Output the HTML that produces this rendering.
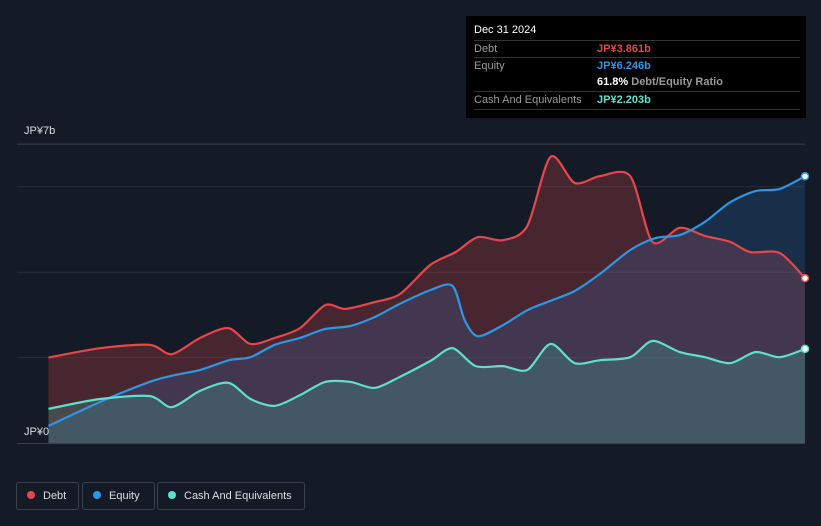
<!DOCTYPE html>
<html><head><meta charset="utf-8"><style>
body{margin:0;background:#151b26;font-family:"Liberation Sans",sans-serif;}
#wrap{position:relative;width:821px;height:526px;overflow:hidden;background:#151b26;}
#tip{position:absolute;left:466px;top:16px;width:340px;height:102px;background:#000;color:#fff;font-size:11px;}
.row{position:absolute;left:8px;right:6px;height:17px;line-height:17px;border-top:1px solid #333;color:#999;}
.row span{position:absolute;left:123px;font-weight:bold;}
#legend{position:absolute;top:482px;left:16px;}
.lg{position:absolute;top:0;height:26px;border:1px solid #3a404c;border-radius:3px;color:#ddd;font-size:11px;line-height:26px;}
.dot{display:inline-block;width:8px;height:8px;border-radius:4px;margin:0 8px 0 10px;}
</style></head><body>
<div id="wrap">
<svg id="svg" width="821" height="526" style="position:absolute;left:0;top:0"></svg>
<div id="tip">
 <div style="position:absolute;left:8px;top:8px;font-size:11px;">Dec 31 2024</div>
 <div class="row" style="top:24px">Debt<span style="color:#e5474b">JP¥3.861b</span></div>
 <div class="row" style="top:41px">Equity<span style="color:#2d96e6">JP¥6.246b</span></div>
 <div class="row" style="top:58px;border-top:none"><span style="color:#fff">61.8% <b style="color:#999">Debt/Equity Ratio</b></span></div>
 <div class="row" style="top:75px">Cash And Equivalents<span style="color:#5fe0cc">JP¥2.203b</span></div>
 <div class="row" style="top:93px;height:0"></div>
</div>
<div id="legend">
 <div class="lg" style="left:0;width:61px"><span class="dot" style="background:#e5474b"></span>Debt</div>
 <div class="lg" style="left:66px;width:71px"><span class="dot" style="background:#2d96e6"></span>Equity</div>
 <div class="lg" style="left:141px;width:146px"><span class="dot" style="background:#5fe0cc"></span>Cash And Equivalents</div>
</div>
</div>
<script>
const debtDates=[17.5,18.01,18.5,18.72,19.0,19.28,19.5,19.74,19.99,20.24,20.44,20.73,20.98,21.28,21.53,21.75,22.0,22.24,22.47,22.71,22.96,23.26,23.48,23.75,24.0,24.25,24.45,24.74,24.99];
const debtVals=[2.0,2.22,2.3,2.08,2.46,2.69,2.32,2.46,2.69,3.23,3.14,3.3,3.49,4.17,4.47,4.82,4.75,5.08,6.7,6.09,6.25,6.25,4.71,5.04,4.85,4.71,4.47,4.45,3.861];
const eqDates=[17.5,18.01,18.5,18.75,19.0,19.29,19.5,19.74,19.99,20.24,20.49,20.73,20.98,21.28,21.5,21.62,21.75,22.0,22.24,22.47,22.71,22.96,23.26,23.51,23.75,24.0,24.25,24.5,24.74,24.99];
const eqVals=[0.4,0.96,1.43,1.59,1.71,1.94,2.01,2.3,2.46,2.67,2.74,2.95,3.26,3.58,3.68,2.88,2.5,2.76,3.11,3.33,3.56,3.96,4.52,4.8,4.87,5.18,5.64,5.9,5.95,6.246];
const cashDates=[17.5,18.01,18.5,18.72,19.0,19.28,19.5,19.74,19.99,20.24,20.49,20.73,20.98,21.28,21.5,21.73,22.0,22.24,22.47,22.71,22.96,23.26,23.48,23.75,24.0,24.25,24.5,24.74,24.99];
const cashVals=[0.8,1.03,1.1,0.84,1.22,1.41,1.03,0.87,1.12,1.43,1.43,1.29,1.55,1.92,2.22,1.8,1.8,1.71,2.32,1.87,1.94,2.01,2.39,2.13,2.01,1.87,2.13,2.01,2.203];
const yTicks=[0,2,4,6,7];
const xYears=[2018,2019,2020,2021,2022,2023,2024];
const NS="http://www.w3.org/2000/svg",svg=document.getElementById('svg');
const X=d=>99+(d-18)*101, Y=v=>443-v*42.7;
function mk(t,a,name){const e=document.createElementNS(NS,t);for(const k in a)e.setAttribute(k,a[k]);


svg.appendChild(e);return e;}
yTicks.forEach(v=>{if(v>0)mk('line',{x1:17,x2:805,y1:Y(v),y2:Y(v),stroke:v==7?'#3a404c':'#262c38','stroke-width':1},'gridline-'+v);});
mk('line',{x1:17,x2:805,y1:443.5,y2:443.5,stroke:'#3a404c'},'x-axis');
const t1=mk('text',{x:24,y:134,fill:'#ddd','font-size':11},'y-label-top');t1.textContent='JP¥7b';
const t0=mk('text',{x:24,y:435,fill:'#ddd','font-size':11},'y-label-zero');t0.textContent='JP¥0';
xYears.forEach(y=>{const t=mk('text',{x:X(y),y:461,fill:'#aaa','font-size':11,'text-anchor':'middle'},'x-label-'+y);t.textContent=y;});
function path(ds,vs){const p=ds.map((d,i)=>[X(d),Y(vs[i])]);let s='M'+p[0][0]+','+p[0][1];
for(let i=0;i<p.length-1;i++){const p0=p[i-1]||p[i],p1=p[i],p2=p[i+1],p3=p[i+2]||p2,k=0.14;
s+=' C'+(p1[0]+(p2[0]-p0[0])*k)+','+(p1[1]+(p2[1]-p0[1])*k)+' '+(p2[0]-(p3[0]-p1[0])*k)+','+(p2[1]-(p3[1]-p1[1])*k)+' '+p2[0]+','+p2[1];}return s;}
function series(ds,vs,fill,op,name){const l=path(ds,vs);
mk('path',{d:l+' L'+X(ds[ds.length-1])+',443 L'+X(ds[0])+',443 Z',fill:fill,'fill-opacity':op},name+'-area');
return l;}
const dl=series(debtDates,debtVals,'#e5474b',0.25,'debt');
const el=series(eqDates,eqVals,'#2d7fd0',0.2,'equity');
const cl=series(cashDates,cashVals,'#48b8a8',0.25,'cash');
mk('path',{d:dl,fill:'none',stroke:'#e5474b','stroke-width':2.2},'debt-line');
mk('path',{d:el,fill:'none',stroke:'#2d96e6','stroke-width':2.2},'equity-line');
mk('path',{d:cl,fill:'none',stroke:'#5fe0cc','stroke-width':2.2},'cash-line');
[[debtDates,debtVals,'#e5474b','debt'],[eqDates,eqVals,'#2d96e6','equity'],[cashDates,cashVals,'#5fe0cc','cash']].forEach(([d,v,c,n])=>{
mk('circle',{cx:X(d[d.length-1]),cy:Y(v[v.length-1]),r:3.5,fill:'#fff',stroke:c,'stroke-width':1.5},n+'-end-dot');});
</script>
</body></html>
